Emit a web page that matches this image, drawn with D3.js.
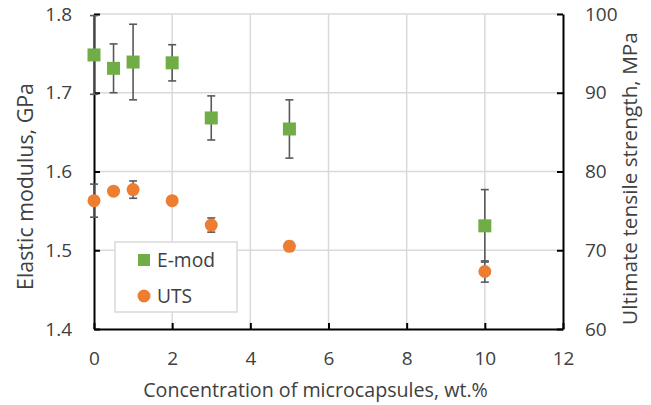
<!DOCTYPE html>
<html><head><meta charset="utf-8">
<script src="https://cdn.jsdelivr.net/npm/d3@7"></script>
<style>body{margin:0;background:#fff}svg{display:block}text{font-family:"Open Sans",sans-serif;fill:#404040}</style>
</head><body><svg id="c" width="651" height="405"></svg>
<script>
const conc = [0, 0.5, 1, 2, 3, 5, 10];
const emod = [1.748, 1.731, 1.739, 1.738, 1.668, 1.654, 1.531];
const emodErr = [0.050, 0.031, 0.048, 0.023, 0.028, 0.037, 0.046];
const uts = [76.3, 77.5, 77.7, 76.3, 73.2, 70.5, 67.3];
const utsErr = [2.1, 0.3, 1.1, 0.3, 0.9, 0.6, 1.35];
const xTicks = [0, 2, 4, 6, 8, 10, 12];
const yLeftTicks = [1.4, 1.5, 1.6, 1.7, 1.8];
const yRightTicks = [60, 70, 80, 90, 100];

const svg = d3.select("#c");
const L = 94, R = 563, T = 14, B = 329;
const x = d3.scaleLinear().domain([0, 12]).range([L, R]);
const yL = d3.scaleLinear().domain([1.4, 1.8]).range([B, T]);
const yR = d3.scaleLinear().domain([60, 100]).range([B, T]);
const grid = "#d9d9d9";

function fit(sel, target) {
  const n = sel.node();
  const fs = parseFloat(sel.style("font-size"));
  const w = n.getComputedTextLength();
  sel.style("font-size", (fs * target / w) + "px");
  return sel;
}

// gridlines
svg.append("g").selectAll("line").data(yLeftTicks.slice(1)).join("line")
  .attr("x1", L).attr("x2", R).attr("y1", d => yL(d)).attr("y2", d => yL(d))
  .attr("stroke", grid).attr("stroke-width", 1.5);
svg.append("g").selectAll("line").data(xTicks.slice(1, -1)).join("line")
  .attr("x1", d => x(d)).attr("x2", d => x(d)).attr("y1", T).attr("y2", B)
  .attr("stroke", grid).attr("stroke-width", 1.5);

// axes
const fmtL = d3.format(".1f");
const axL = svg.append("g").attr("transform", `translate(${L},0)`)
  .call(d3.axisLeft(yL).tickValues(yLeftTicks).tickFormat(fmtL).tickSizeInner(-6).tickSizeOuter(0).tickPadding(22));
const axR = svg.append("g").attr("transform", `translate(${R},0)`)
  .call(d3.axisRight(yR).tickValues(yRightTicks).tickSizeInner(-6).tickSizeOuter(0).tickPadding(22));
const axB = svg.append("g").attr("transform", `translate(0,${B})`)
  .call(d3.axisBottom(x).tickValues(xTicks).tickSizeInner(-6).tickSizeOuter(0).tickPadding(23));
[axL, axR, axB].forEach(a => {
  a.select(".domain").attr("stroke", "#000").attr("stroke-width", 2);
  a.selectAll(".tick line").attr("stroke", "#000").attr("stroke-width", 2);
  a.selectAll(".tick text").style("font-size", "19px").attr("fill", "#404040");
});

// error bars
const errCol = "#595959", cap = 4;
function errBars(vals, errs, y) {
  const g = svg.append("g").attr("stroke", errCol).attr("stroke-width", 1.6);
  conc.forEach((c, i) => {
    const cx = x(c), y1 = y(vals[i] + errs[i]), y2 = y(vals[i] - errs[i]);
    g.append("line").attr("x1", cx).attr("x2", cx).attr("y1", y1).attr("y2", y2);
    g.append("line").attr("x1", cx - cap).attr("x2", cx + cap).attr("y1", y1).attr("y2", y1);
    g.append("line").attr("x1", cx - cap).attr("x2", cx + cap).attr("y1", y2).attr("y2", y2);
  });
}
errBars(emod, emodErr, yL);
svg.append("g").selectAll("rect").data(conc).join("rect")
  .attr("x", (d) => x(d) - 6.5).attr("y", (d, i) => yL(emod[i]) - 6.5)
  .attr("width", 13).attr("height", 13).attr("fill", "#70AD47");
errBars(uts, utsErr, yR);
svg.append("g").selectAll("circle").data(conc).join("circle")
  .attr("cx", d => x(d)).attr("cy", (d, i) => yR(uts[i])).attr("r", 6.5).attr("fill", "#ED7D31");

// legend
const lg = svg.append("g");
lg.append("rect").attr("x", 115).attr("y", 242).attr("width", 122).attr("height", 70)
  .attr("fill", "#fff").attr("stroke", grid).attr("stroke-width", 1.5);
lg.append("rect").attr("x", 138).attr("y", 254).attr("width", 12).attr("height", 12).attr("fill", "#70AD47");
lg.append("circle").attr("cx", 144).attr("cy", 296).attr("r", 6.5).attr("fill", "#ED7D31");
const t1 = lg.append("text").attr("x", 157).attr("y", 267).style("font-size", "19px").text("E-mod");
fit(t1, 58);
const t2 = lg.append("text").attr("x", 157).attr("y", 303).style("font-size", t1.style("font-size")).text("UTS");

// axis titles
fit(svg.append("text").attr("x", 315.5).attr("y", 397).attr("text-anchor", "middle")
  .style("font-size", "19px").text("Concentration of microcapsules, wt.%"), 345);
fit(svg.append("text").attr("transform", "translate(33,186.5) rotate(-90)").attr("text-anchor", "middle")
  .style("font-size", "19px").text("Elastic modulus, GPa"), 207);
fit(svg.append("text").attr("transform", "translate(637,178.5) rotate(-90)").attr("text-anchor", "middle")
  .style("font-size", "19px").text("Ultimate tensile strength, MPa"), 293);
</script></body></html>
